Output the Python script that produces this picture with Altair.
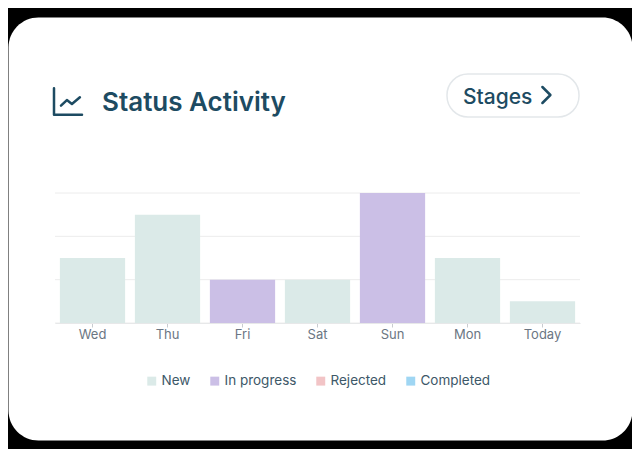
import altair as alt
import pandas as pd

# chart values
days = ["Wed", "Thu", "Fri", "Sat", "Sun", "Mon", "Today"]
statuses = ["New", "New", "In progress", "New", "In progress", "New", "New"]
counts = [3, 5, 2, 2, 6, 3, 1]
grid_values = [0, 2, 4, 6]

legend_order = ["New", "In progress", "Rejected", "Completed"]
legend_colors = ["#dbeae8", "#cbbfe6", "#f2c4c6", "#9fd6f3"]

bars_df = pd.DataFrame({"day": days, "status": statuses, "count": counts})
grid_df = pd.DataFrame({"v": grid_values})

navy = "#1d4b62"
y_scale = alt.Scale(domain=[0, 6], range=[306, 176])

grid = alt.Chart(grid_df).mark_rule(color="#ececec", strokeWidth=1).encode(
    y=alt.Y("v:Q", scale=y_scale, axis=None),
    x=alt.value(47),
    x2=alt.value(572),
)

bars = alt.Chart(bars_df).mark_bar().encode(
    x=alt.X(
        "day:N",
        sort=days,
        scale=alt.Scale(range=[47, 572], paddingInner=0.13, paddingOuter=0.065),
        axis=alt.Axis(
            title=None,
            offset=-117,
            labelAngle=0,
            labelColor="#6b7683",
            labelFontSize=13,
            labelFont="Inter",
            labelPadding=1,
            tickColor="#c8ccd0",
            tickSize=4,
            domainColor="#e2e4e6",
            grid=False,
        ),
    ),
    y=alt.Y("count:Q", scale=y_scale, axis=None),
    color=alt.Color(
        "status:N",
        scale=alt.Scale(domain=legend_order, range=legend_colors),
        legend=alt.Legend(
            title=None,
            orient="none",
            direction="horizontal",
            legendX=137,
            legendY=357,
            symbolType="square",
            symbolSize=80,
            symbolStrokeWidth=0,
            labelFont="Inter",
            labelFontSize=13.5,
            labelColor="#3d5868",
            labelOffset=3,
            columnPadding=17,
            padding=0,
        ),
    ),
)

# header: icon, title and the "Stages" button
icon = alt.Chart(pd.DataFrame({"a": [0]})).mark_point(
    shape="M-1,-0.95L-1,0.95L1,0.95M-0.5,0.3L-0.08,-0.1L0.28,0.18L0.85,-0.3",
    filled=False,
    size=784,
    strokeWidth=2.5,
    strokeCap="round",
    strokeJoin="round",
    color=navy,
    opacity=1,
).encode(x=alt.value(60), y=alt.value(84.5))

title = alt.Chart(pd.DataFrame({"t": ["Status Activity"]})).mark_text(
    align="left", baseline="alphabetic", font="Inter", fontSize=26,
    fontWeight=600, color=navy,
).encode(text="t:N", x=alt.value(94), y=alt.value(94))

pill = alt.Chart(pd.DataFrame({"a": [0]})).mark_rect(
    fill="white", stroke="#e3e7ea", strokeWidth=1.5, cornerRadius=21,
).encode(x=alt.value(439), x2=alt.value(571), y=alt.value(57), y2=alt.value(100))

stages = alt.Chart(pd.DataFrame({"t": ["Stages"]})).mark_text(
    align="left", baseline="alphabetic", font="Inter", fontSize=21,
    fontWeight=500, color=navy,
).encode(text="t:N", x=alt.value(455), y=alt.value(87))

chevron = alt.Chart(pd.DataFrame({"a": [0]})).mark_point(
    shape="M-0.45,-1L0.55,0L-0.45,1",
    filled=False,
    size=256,
    strokeWidth=2.5,
    strokeCap="round",
    strokeJoin="round",
    color=navy,
    opacity=1,
).encode(x=alt.value(538), y=alt.value(78))

chart = alt.layer(grid, bars, icon, title, pill, stages, chevron).properties(
    width=624,
    height=423,
    background="black",
    padding={"top": 9, "bottom": 9, "left": 0, "right": 0},
    autosize=alt.AutoSizeParams(type="none"),
).configure_view(
    fill="white",
    stroke="transparent",
    cornerRadius=30,
)

chart.save("out.html", embed_options={"renderer": "svg", "actions": False})
